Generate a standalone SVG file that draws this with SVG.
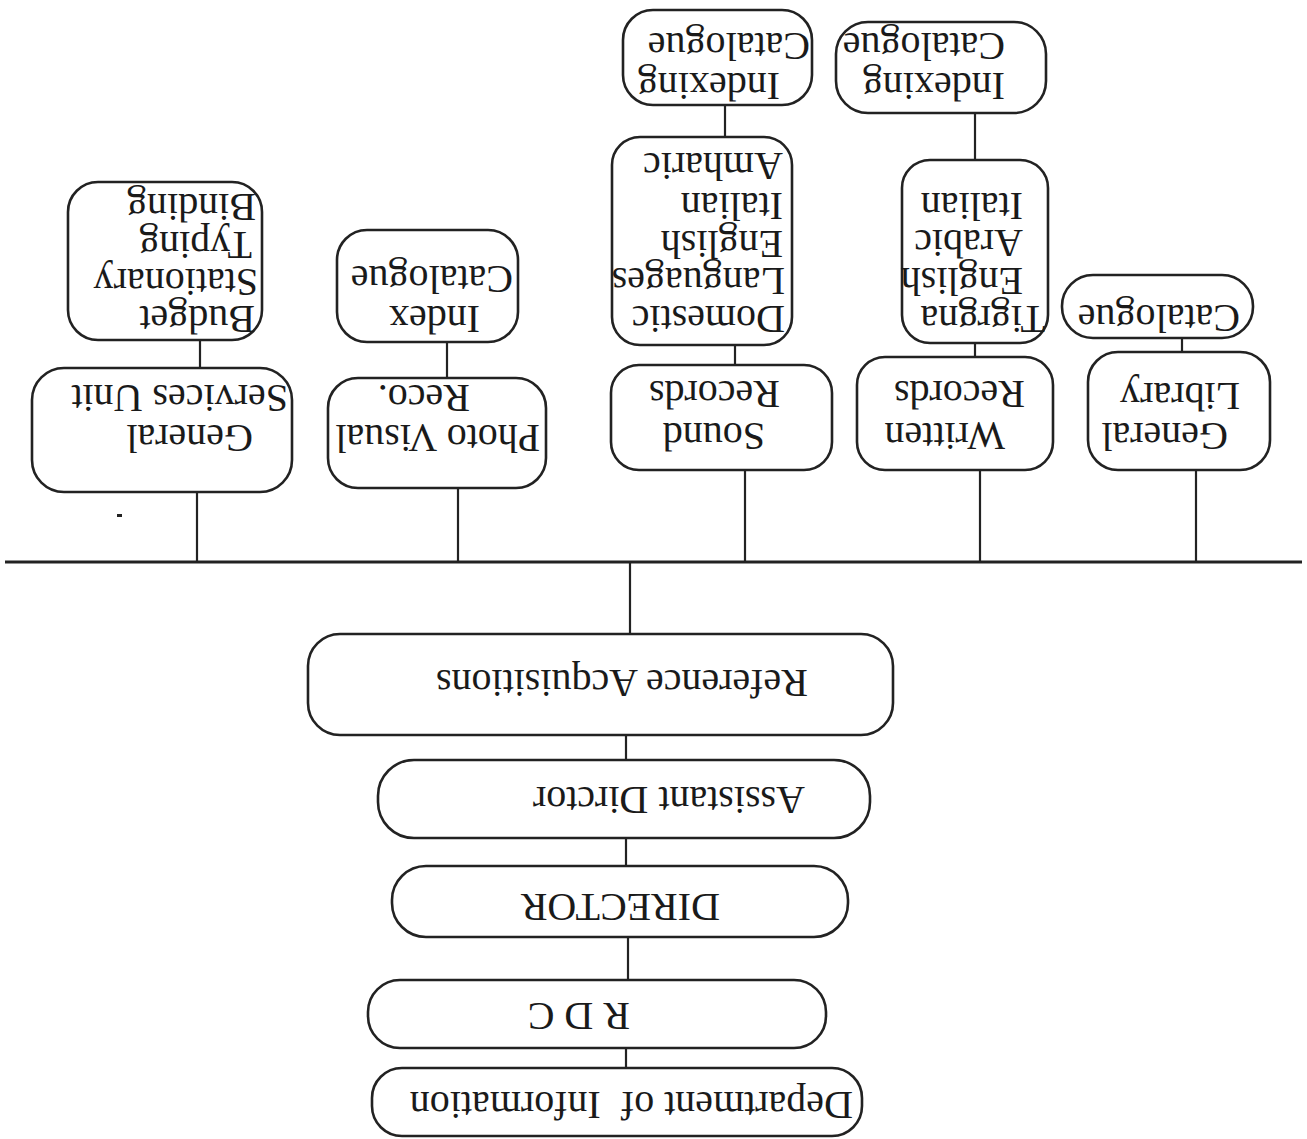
<svg xmlns="http://www.w3.org/2000/svg" width="1307" height="1139" viewBox="0 0 1307 1139">
<style>
.box{fill:#fff;stroke:#222;stroke-width:2.6}
.ln{stroke:#222;stroke-width:2.2;fill:none}
.bus{stroke:#222;stroke-width:3;fill:none}
text{font-family:"Liberation Serif","Times New Roman",serif;font-size:40px;fill:#1a1a1a}
</style>
<rect width="1307" height="1139" fill="#fff"/>
<g transform="rotate(180 653.5 569.5)">
<g id="connectors">
<line class="bus" x1="5" y1="577" x2="1302" y2="577"/>
<line class="ln" x1="677" y1="505" x2="677" y2="577"/>
<line class="ln" x1="681" y1="379" x2="681" y2="404"/>
<line class="ln" x1="681" y1="273" x2="681" y2="301"/>
<line class="ln" x1="679" y1="159" x2="679" y2="202"/>
<line class="ln" x1="681" y1="71" x2="681" y2="91"/>
<line class="ln" x1="1110" y1="577" x2="1110" y2="647"/>
<line class="ln" x1="1107" y1="771" x2="1107" y2="799"/>
<line class="ln" x1="849" y1="577" x2="849" y2="651"/>
<line class="ln" x1="860" y1="761" x2="860" y2="797"/>
<line class="ln" x1="562" y1="577" x2="562" y2="669"/>
<line class="ln" x1="572" y1="774" x2="572" y2="794"/>
<line class="ln" x1="582" y1="1002" x2="582" y2="1034"/>
<line class="ln" x1="327" y1="577" x2="327" y2="669"/>
<line class="ln" x1="332" y1="782" x2="332" y2="796"/>
<line class="ln" x1="332" y1="979" x2="332" y2="1026"/>
<line class="ln" x1="111" y1="577" x2="111" y2="669"/>
<line class="ln" x1="125" y1="787" x2="125" y2="801"/>
<rect x="1185" y="622" width="5" height="3" fill="#222"/>
</g>
<g id="dept">
<rect class="box" x="445" y="3" width="490" height="68" rx="30"/>
<text x="454" y="47" xml:space="preserve">Department of  Information</text>
</g>
<g id="rdc">
<rect class="box" x="481" y="91" width="458" height="68" rx="32"/>
<text x="677" y="136">R D C</text>
</g>
<g id="director">
<rect class="box" x="459" y="202" width="456" height="71" rx="34"/>
<text x="587" y="245">DIRECTOR</text>
</g>
<g id="assistant">
<rect class="box" x="437" y="301" width="492" height="78" rx="36"/>
<text x="502" y="352">Assistant Dirctor</text>
</g>
<g id="refacq">
<rect class="box" x="414" y="404" width="585" height="101" rx="32"/>
<text x="499" y="469">Reference Acquisitions</text>
</g>
<g id="general-services">
<rect class="box" x="1015" y="647" width="260" height="124" rx="32"/>
<text x="1054" y="714">General</text>
<text x="1019" y="754">Services Unit</text>
</g>
<g id="budget">
<rect class="box" x="1045" y="799" width="194" height="158" rx="30"/>
<text x="1052" y="833">Budget</text>
<text x="1049" y="870">Stationary</text>
<text x="1055" y="907">Typing</text>
<text x="1051" y="945">Binding</text>
</g>
<g id="photo-visual">
<rect class="box" x="761" y="651" width="218" height="110" rx="30"/>
<text x="767" y="714">Photo Visual</text>
<text x="837" y="754">Reco.</text>
</g>
<g id="index-catalogue">
<rect class="box" x="789" y="797" width="181" height="112" rx="30"/>
<text x="827" y="833">Index</text>
<text x="794" y="873">Catalogue</text>
</g>
<g id="sound-records">
<rect class="box" x="475" y="669" width="221" height="105" rx="28"/>
<text x="542" y="716">Sound</text>
<text x="527" y="758">Records</text>
</g>
<g id="domestic">
<rect class="box" x="515" y="794" width="180" height="208" rx="28"/>
<text x="522" y="833">Domestic</text>
<text x="522" y="871">Languages</text>
<text x="524" y="908">English</text>
<text x="524" y="946">Italian</text>
<text x="524" y="986">Amharic</text>
</g>
<g id="indexing-catalogue-1">
<rect class="box" x="495" y="1034" width="189" height="95" rx="30"/>
<text x="527" y="1066">Indexing</text>
<text x="497" y="1106">Catalogue</text>
</g>
<g id="written-records">
<rect class="box" x="254" y="669" width="196" height="113" rx="28"/>
<text x="302" y="716">Written</text>
<text x="282" y="758">Records</text>
</g>
<g id="languages-2">
<rect class="box" x="259" y="796" width="146" height="183" rx="28"/>
<text x="262" y="833">Tigrgna</text>
<text x="284" y="871">English</text>
<text x="284" y="909">Arabic</text>
<text x="284" y="946">Italian</text>
</g>
<g id="indexing-catalogue-2">
<rect class="box" x="261" y="1026" width="210" height="91" rx="32"/>
<text x="302" y="1066">Indexing</text>
<text x="302" y="1106">Catalogue</text>
</g>
<g id="general-library">
<rect class="box" x="37" y="669" width="182" height="118" rx="30"/>
<text x="79" y="716">General</text>
<text x="67" y="756">Library</text>
</g>
<g id="catalogue-3">
<rect class="box" x="54" y="801" width="191" height="63" rx="31"/>
<text x="67" y="834">Catalogue</text>
</g>
</g>
</svg>
